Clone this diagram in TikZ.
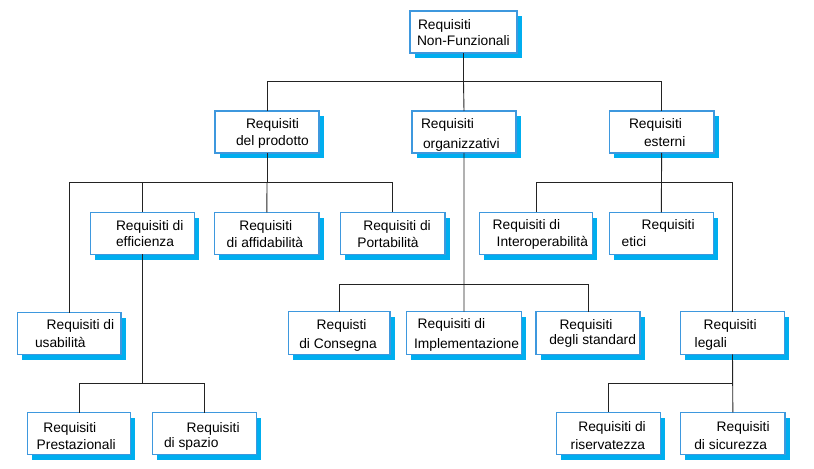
\documentclass[tikz,border=0pt]{standalone}
\usepackage{fontspec}
\setmainfont{Liberation Sans}
\usetikzlibrary{shadows}
\definecolor{bordc}{RGB}{62,152,222}
\definecolor{shadowc}{RGB}{0,174,239}
\definecolor{linec}{RGB}{35,35,35}
\tikzset{
  rbox/.style={draw=bordc, fill=white, line width=1.1bp, inner sep=0pt, outer sep=0pt,
    drop shadow={shadow xshift=4.5bp, shadow yshift=-5.5bp, fill=shadowc, opacity=1, draw=none}},
  txt/.style={anchor=base west, inner sep=0pt, outer sep=0pt, text=black,
    font=\fontsize{13.8bp}{16bp}\selectfont},
  conn/.style={draw=linec, line width=0.9bp}
}
\newcommand\reqbox[5]{\node[rbox, anchor=north west, minimum width={(#4-#2)*1bp}, minimum height={(#5-#3)*1bp}] (#1) at (#2,#3) {};}
\newcommand\reqtext[7]{\node[txt] (#1-a) at (#2,#3) {#4}; \node[txt] (#1-b) at (#5,#6) {#7};}
\begin{document}
\begin{tikzpicture}[x=1bp, y=-1bp]
\useasboundingbox (0,0) rectangle (814,469);
% boxes
\reqbox{root}{410}{11}{517}{53}
\reqbox{prod}{215}{111}{319}{153}
\reqbox{org}{412}{111}{516}{153}
\reqbox{est}{609.3}{111}{714}{153}
\reqbox{eff}{90.7}{212.3}{194.7}{254.3}
\reqbox{aff}{214.7}{212.3}{319}{254.3}
\reqbox{port}{340.7}{212.3}{445}{254.3}
\reqbox{inter}{479.3}{212.5}{592.7}{254.3}
\reqbox{etici}{609.3}{212.3}{713.3}{254.3}
\reqbox{usab}{17.3}{312.7}{121}{354.3}
\reqbox{cons}{288.3}{311.7}{390}{354.3}
\reqbox{impl}{406.7}{311.7}{521.3}{354.3}
\reqbox{std}{536}{311.7}{640}{354.3}
\reqbox{leg}{680.7}{311.7}{784.3}{354.3}
\reqbox{prest}{27.3}{412.5}{130.7}{454.5}
\reqbox{spaz}{152.7}{412.5}{256.7}{454.5}
\reqbox{ris}{556.7}{412.3}{660.7}{454.3}
\reqbox{sic}{680.7}{412.3}{785}{454.3}
% texts
\reqtext{root}{418}{30}{Requisiti}{417}{45.7}{Non-Funzionali}
\reqtext{prod}{246}{129}{Requisiti}{236}{145.7}{del prodotto}
\reqtext{org}{421}{128.3}{Requisiti}{423}{149}{organizzativi}
\reqtext{est}{629}{129}{Requisiti}{644}{147}{esterni}
\reqtext{eff}{116}{231}{Requisiti di}{116}{247}{efficienza}
\reqtext{aff}{239.3}{231}{Requisiti}{226.7}{247.7}{di affidabilità}
\reqtext{port}{363.3}{231}{Requisiti di}{357.3}{247.7}{Portabilità}
\reqtext{inter}{492.7}{229.3}{Requisiti di}{496.7}{246.7}{Interoperabilità}
\reqtext{etici}{641.7}{230}{Requisiti}{621.7}{247}{etici}
\reqtext{usab}{46.7}{329.3}{Requisiti di}{35}{347.7}{usabilità}
\reqtext{cons}{316.7}{329.3}{Requisti}{299.3}{348.3}{di Consegna}
\reqtext{impl}{417.7}{328.3}{Requisiti di}{414}{348.3}{Implementazione}
\reqtext{std}{559.5}{329.3}{Requisiti}{549.3}{345}{degli standard}
\reqtext{leg}{703.7}{329.3}{Requisiti}{694.7}{347.7}{legali}
\reqtext{prest}{43.3}{432.3}{Requisiti}{36.7}{449.3}{Prestazionali}
\reqtext{spaz}{186.7}{432.3}{Requisiti}{164}{447}{di spazio}
\reqtext{ris}{578.3}{431.7}{Requisiti di}{570.7}{449.3}{riservatezza}
\reqtext{sic}{716.7}{431.7}{Requisiti}{694.3}{449.3}{di sicurezza}
% bus levels
\coordinate (b1) at (0,81.7);
\coordinate (b2) at (0,182.7);
\coordinate (b3) at (0,284);
\coordinate (b4) at (0,383.3);
% connectors
\draw[conn] (root.south) -- (root.south |- b1);
\draw[conn] (root.south |- b1) -| (prod.north);
\draw[conn] (root.south |- b1) -| (est.north);
\draw[conn] (root.south |- b1) -- (org.north);
\draw[conn] (prod.south) -- (prod.south |- b2);
\draw[conn] (prod.south |- b2) -| (usab.north);
\draw[conn] (prod.south |- b2) -| (eff.north);
\draw[conn] (prod.south |- b2) -- (aff.north);
\draw[conn] (prod.south |- b2) -| (port.north);
\draw[conn] (org.south) -- (impl.north);
\draw[conn] (org.south |- b3) -| (cons.north);
\draw[conn] (org.south |- b3) -| (std.north);
\draw[conn] (est.south) -- (etici.north);
\draw[conn] (est.south |- b2) -| (inter.north);
\draw[conn] (est.south |- b2) -| (leg.north);
\draw[conn] (eff.south) -- (eff.south |- b4);
\draw[conn] (eff.south |- b4) -| (prest.north);
\draw[conn] (eff.south |- b4) -| (spaz.north);
\draw[conn] (leg.south) -- (sic.north);
\draw[conn] (leg.south |- b4) -| (ris.north);
\end{tikzpicture}
\end{document}
